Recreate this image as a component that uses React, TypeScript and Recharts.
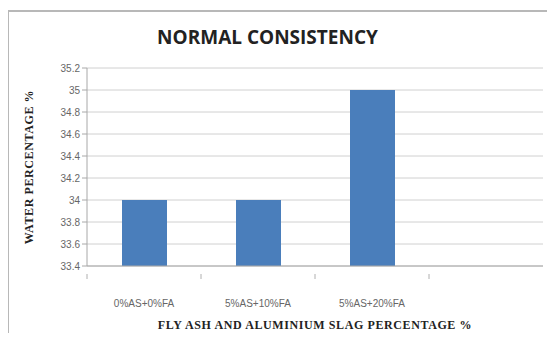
import { BarChart, Bar, XAxis, YAxis, CartesianGrid, Label } from 'recharts'

const mixes = ['0%AS+0%FA', '5%AS+10%FA', '5%AS+20%FA', '']
const waterPct = [34, 34, 35, null]
const yTicks = [33.4, 33.6, 33.8, 34, 34.2, 34.4, 34.6, 34.8, 35, 35.2]

const chartData = mixes.map((m, i) => ({ mix: m, water: waterPct[i] }))

const serifTitle = { fontFamily: 'Liberation Serif, Times New Roman, serif', fontWeight: 700, fontSize: 12, letterSpacing: 0.6, fill: '#222' }

// category label plus a boundary mark on the left edge of each band
function MixTick(props: any) {
  const { x, y, payload } = props
  const half = payload.offset ?? 57
  return (
    <g>
      <line x1={x - half} x2={x - half} y1={y} y2={y + 5} stroke="#b0b0b0" />
      {payload.value && (
        <text x={x} y={y + 33} textAnchor="middle" fontSize={10} fill="#666" fontFamily="Liberation Sans, Arial, sans-serif">
          {payload.value}
        </text>
      )}
    </g>
  )
}

export default function App() {
  return (
    <div style={{ position: 'relative', width: 555, height: 341, background: '#fff', overflow: 'hidden', margin: -8 }}>
      <div style={{ position: 'absolute', left: 0, top: 0, width: 555, height: 4, background: '#9a9a9a' }} />
      <div style={{ position: 'absolute', left: 7, top: 10, width: 560, height: 340, borderLeft: '2px solid #b8b8b8', borderTop: '2px solid #b8b8b8' }} />
      <div
        style={{
          position: 'absolute', left: 0, width: 555, top: 24, textAlign: 'center',
          fontFamily: 'Open Sans, Liberation Sans, sans-serif', fontWeight: 700, fontSize: 19, color: '#222'
        }}
      >
        <span style={{ position: 'relative', left: -10 }}>NORMAL CONSISTENCY</span>
      </div>
      <div style={{ position: 'absolute', left: 0, top: 0 }}>
        <BarChart width={555} height={341} data={chartData} margin={{ top: 68, right: 12, bottom: 0, left: 27 }}>
          <CartesianGrid vertical={false} stroke="#d0d0d0" />
          <XAxis
            dataKey="mix"
            stroke="#a8a8a8"
            tickLine={false}
            interval={0}
            tick={<MixTick />}
            height={75}
          >
            <Label
              value="FLY ASH AND ALUMINIUM SLAG  PERCENTAGE %"
              position="insideBottom"
              offset={12}
              style={serifTitle}
            />
          </XAxis>
          <YAxis
            domain={[33.4, 35.2]}
            ticks={yTicks}
            interval={0}
            width={60}
            stroke="#a8a8a8"
            tickSize={5}
            tick={{ fontSize: 10, fill: '#666', fontFamily: 'Liberation Sans, Arial, sans-serif' }}
          >
            <Label
              value="WATER PERCENTAGE %"
              angle={-90}
              position="insideLeft"
              offset={2}
              style={{ ...serifTitle, textAnchor: 'middle' }}
            />
          </YAxis>
          <Bar dataKey="water" fill="#4a7ebb" barSize={45} isAnimationActive={false} />
        </BarChart>
      </div>
    </div>
  )
}
